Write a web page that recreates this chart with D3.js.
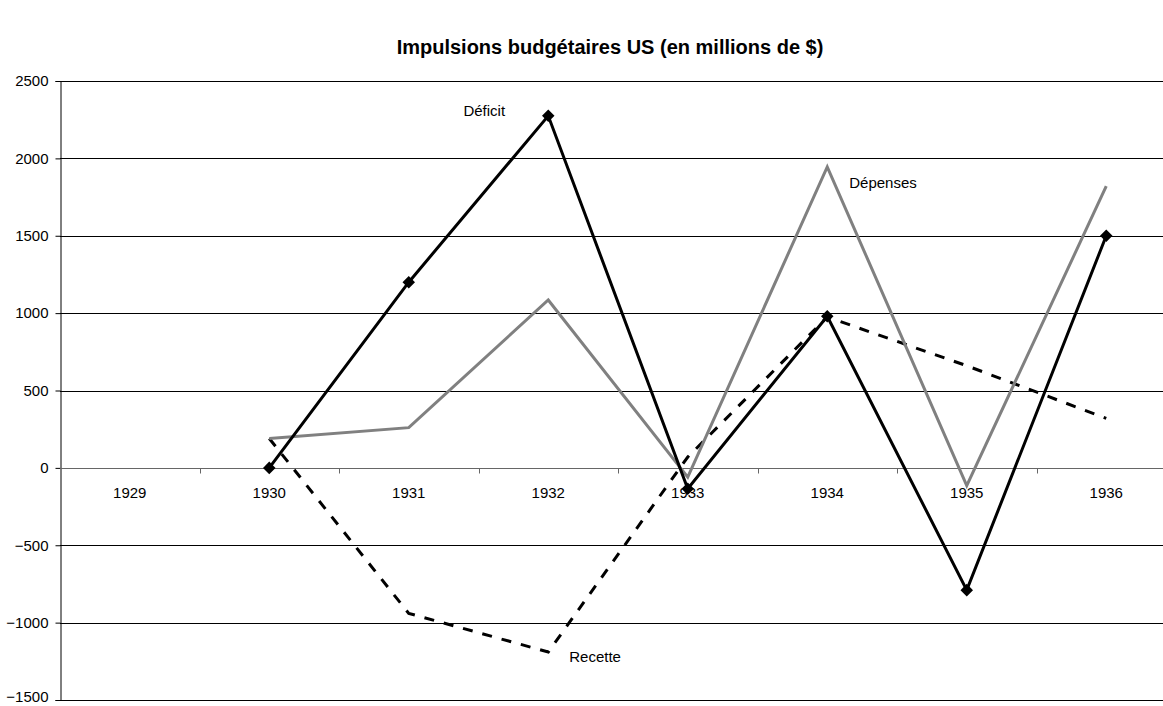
<!DOCTYPE html>
<html>
<head>
<meta charset="utf-8">
<script src="https://cdn.jsdelivr.net/npm/d3@7"></script>
<style>
  body { margin: 0; background: #fff; }
  svg text { font-family: "Liberation Sans", Arial, sans-serif; fill: #000; }
</style>
</head>
<body>
<div id="chart"></div>
<script>
// categories and series (millions of $)
const years = ["1929", "1930", "1931", "1932", "1933", "1934", "1935", "1936"];
const deficit = [null, 0, 1200, 2275, -135, 980, -790, 1500];
const depenses = [null, 190, 260, 1085, -60, 1945, -115, 1820];
const recette = [null, 190, -940, -1190, 70, 975, 660, 320];
const yTicks = [-1500, -1000, -500, 0, 500, 1000, 1500, 2000, 2500];

const W = 1163, H = 706;
const plotLeft = 60, plotTop = 81, plotBottom = 700;
const bandW = 139.5;

const svg = d3.select("#chart").append("svg")
  .attr("width", W)
  .attr("height", H);

const x = d3.scaleBand()
  .domain(years)
  .range([plotLeft, plotLeft + bandW * years.length])
  .padding(0);

const y = d3.scaleLinear()
  .domain([-1500, 2500])
  .range([plotBottom, plotTop]);

const cx = (yr) => x(yr) + x.bandwidth() / 2;

// title
svg.append("text")
  .attr("x", 610)
  .attr("y", 54)
  .attr("text-anchor", "middle")
  .style("font-size", "20px")
  .style("font-weight", "bold")
  .text("Impulsions budgétaires US (en millions de $)");

// horizontal gridlines
svg.append("g")
  .selectAll("line")
  .data(yTicks.filter((d) => d !== 0))
  .join("line")
  .attr("x1", plotLeft)
  .attr("x2", W)
  .attr("y1", (d) => Math.round(y(d)) + 0.5)
  .attr("y2", (d) => Math.round(y(d)) + 0.5)
  .attr("stroke", "#000")
  .attr("stroke-width", 1);

// y axis
const yAxis = d3.axisLeft(y)
  .tickValues(yTicks)
  .tickSize(5)
  .tickPadding(7)
  .tickFormat(d3.format("d"));

const gy = svg.append("g")
  .attr("transform", `translate(${plotLeft + 0.5},0)`)
  .call(yAxis);
gy.select(".domain").attr("stroke", "#000");
gy.selectAll(".tick line").attr("stroke", "#000");
gy.selectAll("text")
  .style("font-size", "15px")
  .style("font-family", "Liberation Sans, Arial, sans-serif")
  .attr("fill", "#000");
// keep the bottom label inside the picture
gy.selectAll(".tick text")
  .filter((d) => d === -1500)
  .attr("dy", "0.12em");

// x axis along zero
const zeroY = Math.round(y(0)) + 0.5;
svg.append("line")
  .attr("x1", plotLeft)
  .attr("x2", W)
  .attr("y1", zeroY)
  .attr("y2", zeroY)
  .attr("stroke", "#666")
  .attr("stroke-width", 1);

svg.append("g")
  .selectAll("line")
  .data(years.slice(1))
  .join("line")
  .attr("x1", (d) => Math.round(x(d)) + 0.5)
  .attr("x2", (d) => Math.round(x(d)) + 0.5)
  .attr("y1", zeroY)
  .attr("y2", zeroY + 5)
  .attr("stroke", "#666");

svg.append("g")
  .selectAll("text")
  .data(years)
  .join("text")
  .attr("x", (d) => cx(d))
  .attr("y", zeroY + 29)
  .attr("text-anchor", "middle")
  .style("font-size", "15px")
  .text((d) => d);

// series lines
const pts = (vals) => years.map((yr, i) => ({ yr, v: vals[i] })).filter((d) => d.v !== null);
const line = d3.line().x((d) => cx(d.yr)).y((d) => y(d.v));

svg.append("path")
  .datum(pts(recette))
  .attr("d", line)
  .attr("fill", "none")
  .attr("stroke", "#000")
  .attr("stroke-width", 3)
  .attr("stroke-dasharray", "10,10");

svg.append("path")
  .datum(pts(depenses))
  .attr("d", line)
  .attr("fill", "none")
  .attr("stroke", "#808080")
  .attr("stroke-width", 3);

svg.append("path")
  .datum(pts(deficit))
  .attr("d", line)
  .attr("fill", "none")
  .attr("stroke", "#000")
  .attr("stroke-width", 3);

// diamond markers for déficit
const diamond = d3.symbol().type(d3.symbolDiamond2).size(100);
svg.append("g")
  .selectAll("path")
  .data(pts(deficit))
  .join("path")
  .attr("transform", (d) => `translate(${cx(d.yr)},${y(d.v)})`)
  .attr("d", diamond)
  .attr("fill", "#000");

// series labels
svg.append("text")
  .attr("x", cx("1932") - 64)
  .attr("y", y(2275))
  .attr("text-anchor", "middle")
  .style("font-size", "15px")
  .text("Déficit");

svg.append("text")
  .attr("x", cx("1934") + 22)
  .attr("y", y(1945) + 21)
  .style("font-size", "15px")
  .text("Dépenses");

svg.append("text")
  .attr("x", cx("1932") + 21)
  .attr("y", y(-1190) + 10)
  .style("font-size", "15px")
  .text("Recette");
</script>
</body>
</html>
